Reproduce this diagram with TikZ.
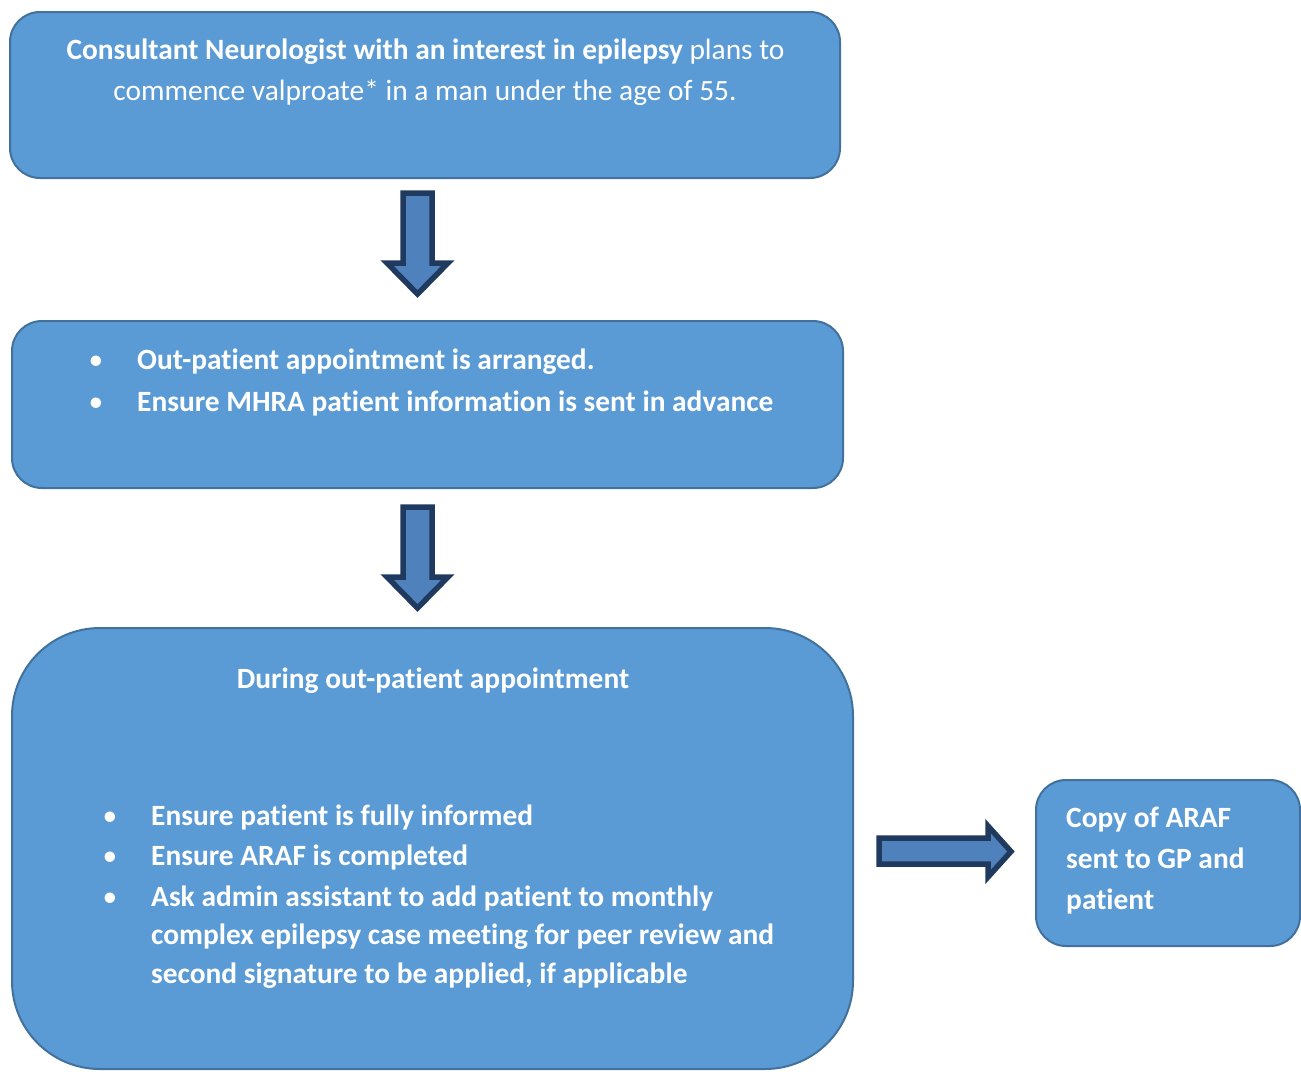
\documentclass[tikz,border=0pt]{standalone}
\usepackage{fontspec}
\setmainfont{Carlito}[Ligatures=NoCommon]
\definecolor{boxfill}{HTML}{5B9BD5}
\definecolor{boxline}{HTML}{41719C}
\definecolor{arrowfill}{HTML}{4F81BD}
\definecolor{arrowline}{HTML}{1F3A5E}
\begin{document}
\begin{tikzpicture}[x=1pt,y=-1pt,
  box/.style={draw=boxline, line width=2pt, fill=boxfill, rounded corners=30pt, inner sep=0pt},
  txt/.style={text=white, font=\fontsize{29.4}{41}\selectfont, inner sep=0pt},
  blockarrow/.style={draw=arrowline, fill=arrowfill, line width=5.5pt, line join=miter}]
\useasboundingbox (0,0) rectangle (1301,1071);
% boxes
\node[box, minimum width=830pt, minimum height=166pt] (b1) at (425,95) {};
\node[box, minimum width=831pt, minimum height=167pt] (b2) at (427.5,404.5) {};
\node[box, rounded corners=88pt, minimum width=841pt, minimum height=441pt] (b3) at (432.5,848.5) {};
\node[box, minimum width=264pt, minimum height=166pt] (b4) at (1168,863) {};
% box 1 text
\node[txt, anchor=base] (t1a) at (425.5,59) {\textbf{Consultant Neurologist with an interest in epilepsy} plans to};
\node[txt, anchor=base] (t1b) at (425,100) {commence valproate* in a man under the age of 55.};
% box 2 text
\node[txt, anchor=base] (d2a) at (96,369) {\textbullet};
\node[txt, anchor=base west] (t2a) at (137,369) {\textbf{Out-patient appointment is arranged.}};
\node[txt, anchor=base] (d2b) at (96,411) {\textbullet};
\node[txt, anchor=base west] (t2b) at (137,411) {\textbf{Ensure MHRA patient information is sent in advance}};
% box 3 text
\node[txt, anchor=base] (t3h) at (433,688) {\textbf{During out-patient appointment}};
\node[txt, anchor=base] (d3a) at (110,825) {\textbullet};
\node[txt, anchor=base west] (t3a) at (151,825) {\textbf{Ensure patient is fully informed}};
\node[txt, anchor=base] (d3b) at (110,865) {\textbullet};
\node[txt, anchor=base west] (t3b) at (151,865) {\textbf{Ensure ARAF is completed}};
\node[txt, anchor=base] (d3c) at (110,906) {\textbullet};
\node[txt, anchor=base west] (t3c) at (151,906) {\textbf{Ask admin assistant to add patient to monthly}};
\node[txt, anchor=base west] (t3d) at (151,944) {\textbf{complex epilepsy case meeting for peer review and}};
\node[txt, anchor=base west] (t3e) at (151,983) {\textbf{second signature to be applied, if applicable}};
% box 4 text
\node[txt, anchor=base west] (t4a) at (1066,827) {\textbf{Copy of ARAF}};
\node[txt, anchor=base west] (t4b) at (1066,868) {\textbf{sent to GP and}};
\node[txt, anchor=base west] (t4c) at (1066,909) {\textbf{patient}};
% block arrows
\draw[blockarrow] (403,193) -- (432,193) -- (432,263) -- (448,263) -- (417.5,294) -- (387,263) -- (403,263) -- cycle;
\draw[blockarrow] (403,507) -- (432,507) -- (432,577) -- (448,577) -- (417.5,608) -- (387,577) -- (403,577) -- cycle;
\draw[blockarrow] (879,838) -- (988,838) -- (988,826) -- (1011,851.5) -- (988,877) -- (988,864) -- (879,864) -- cycle;
\end{tikzpicture}
\end{document}
